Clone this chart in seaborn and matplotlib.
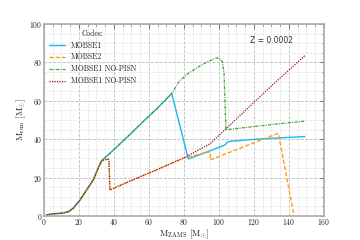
import numpy as np
import pandas as pd
import matplotlib
matplotlib.use("Agg")
import matplotlib.pyplot as plt
import seaborn as sns
from matplotlib.ticker import MultipleLocator

# remnant mass vs ZAMS mass, Z = 0.0002
low_x = [1.5, 5.3, 10.0, 13.9, 16.7, 20.6, 24.4, 28.2, 31.0, 33.0]
low_y = [0.5, 1.2, 1.4, 2.2, 4.0, 8.3, 13.6, 18.8, 24.9, 28.8]

mobse1_x = low_x + [40, 50, 56, 65, 73.0, 82.5, 90, 97, 103.4, 105.3, 120, 135, 149]
mobse1_y = low_y + [34.6, 43.2, 48.6, 56.3, 63.8, 29.7, 32.3, 34.7, 37.0, 38.8, 39.9, 40.7, 41.4]

mobse2_x = low_x + [36.2, 37.1, 37.7, 50, 65, 79.6, 94.9, 95.0, 112, 133.9, 142.9]
mobse2_y = low_y + [29.6, 29.4, 13.6, 18.5, 24.3, 30.1, 33.5, 29.2, 35.3, 43.1, 0.0]

nopisn1_x = low_x + [40, 50, 56, 65, 73.0, 77.1, 82, 88.6, 94, 98.1, 100, 101.9, 102.9, 103.4, 104.0, 120, 135, 149]
nopisn1_y = low_y + [34.6, 43.2, 48.6, 56.3, 63.8, 70.0, 74.0, 77.9, 80.6, 82.2, 82.3, 80.5, 74.4, 60.0, 44.9, 46.6, 48.1, 49.4]

nopisn2_x = low_x + [36.2, 37.1, 37.7, 50, 65, 79.6, 94.9, 103.4, 128.6, 149]
nopisn2_y = low_y + [29.6, 29.4, 13.6, 18.5, 24.3, 30.1, 37.6, 44.9, 66.6, 83.5]

labels = ["MOBSE1", "MOBSE2", "MOBSE1 NO-PISN", "MOBSE1 NO-PISN"]
colors = ["#1ab8f0", "#ff9a1a", "#3c9e3c", "#9b1a1a"]
styles = ["-", (0, (3, 1.5)), (0, (2.5, 1, 0.8, 1)), (0, (1, 1))]
widths = [1.0, 1.0, 0.9, 0.9]

sns.set_style("white")
plt.rcParams["font.family"] = ["cmr10", "DejaVu Serif"]
plt.rcParams["mathtext.fontset"] = "cm"
plt.rcParams["axes.formatter.use_mathtext"] = True

fig = plt.figure(figsize=(3.6, 2.4), dpi=100)
ax = fig.add_axes([0.122, 0.1, 0.778, 0.8])

series = [(mobse1_x, mobse1_y), (mobse2_x, mobse2_y), (nopisn1_x, nopisn1_y), (nopisn2_x, nopisn2_y)]
for (xs, ys), lab, c, ls, lw in zip(series, labels, colors, styles, widths):
    df = pd.DataFrame({"zams": xs, "rem": ys})
    sns.lineplot(data=df, x="zams", y="rem", sort=False, estimator=None,
                 color=c, linestyle=ls, linewidth=lw, label=lab, ax=ax)

ax.set_xlim(0, 160)
ax.set_ylim(0, 100)
ax.xaxis.set_major_locator(MultipleLocator(20))
ax.xaxis.set_minor_locator(MultipleLocator(5))
ax.yaxis.set_major_locator(MultipleLocator(20))
ax.yaxis.set_minor_locator(MultipleLocator(5))
ax.grid(which="major", linestyle="--", color="#bdbdbd", linewidth=0.6)
ax.grid(which="minor", linestyle="--", color="#e0e0e0", linewidth=0.5)
ax.tick_params(which="both", direction="in", top=True, right=True,
               labelsize=5.5, color="#555555", pad=1)
ax.tick_params(which="major", length=3, width=0.6)
ax.tick_params(which="minor", length=1.5, width=0.5)
for s in ax.spines.values():
    s.set_color("#aaaaaa")
    s.set_linewidth(1.2)

ax.set_xlabel(r"M$_{\rm ZAMS}$ [M$_{\odot}$]", fontsize=6.5)
ax.xaxis.set_label_coords(0.5, -0.06)
ax.set_ylabel(r"M$_{\rm rem}$ [M$_{\odot}$]", fontsize=6.5, labelpad=1)
ax.text(130, 91.5, "Z = 0.0002", fontsize=5.5, ha="center", va="center",
        family="DejaVu Sans", color="#333333")

leg = ax.legend(title="Codes:", loc="upper left", frameon=False, fontsize=5.5,
                title_fontsize=5.5, handlelength=2.0, labelspacing=0.45,
                borderaxespad=0.3)

fig.savefig("out.png", dpi=100)
